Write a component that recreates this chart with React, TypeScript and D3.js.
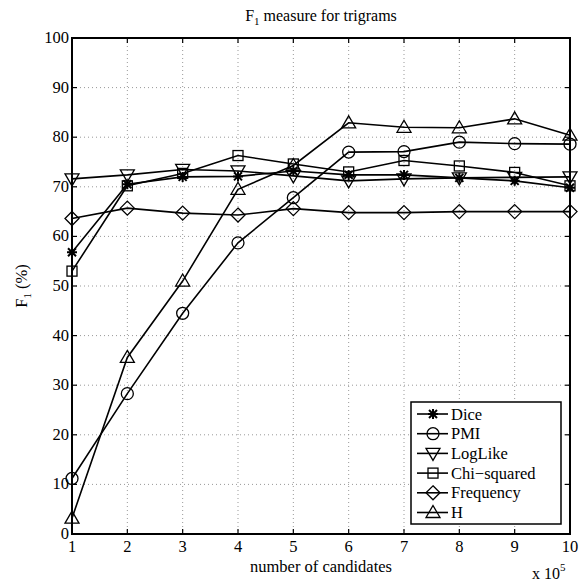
import * as d3 from "d3";
import { useEffect, useRef } from "react";

const candidates = [1, 2, 3, 4, 5, 6, 7, 8, 9, 10];
const dice = [56.8, 70.5, 72.0, 72.1, 73.2, 72.4, 72.4, 71.8, 71.2, 69.8];
const pmi = [11.2, 28.3, 44.5, 58.7, 67.8, 77.0, 77.1, 79.0, 78.7, 78.6];
const logLike = [71.6, 72.4, 73.5, 73.2, 72.2, 71.2, 71.6, 71.8, 71.9, 72.0];
const chiSquared = [53.0, 70.2, 72.7, 76.3, 74.6, 73.0, 75.3, 74.2, 72.9, 70.2];
const frequency = [63.6, 65.7, 64.7, 64.3, 65.6, 64.8, 64.8, 65.0, 65.0, 65.0];
const hMeasure = [3.2, 35.6, 51.0, 69.5, 74.3, 82.9, 82.0, 81.9, 83.7, 80.4];
const yTicks = [0, 10, 20, 30, 40, 50, 60, 70, 80, 90, 100];

const series = [
  { name: "Dice", values: dice, marker: "star" },
  { name: "PMI", values: pmi, marker: "circle" },
  { name: "LogLike", values: logLike, marker: "down" },
  { name: "Chi\u2212squared", values: chiSquared, marker: "square" },
  { name: "Frequency", values: frequency, marker: "diamond" },
  { name: "H", values: hMeasure, marker: "up" },
];

function drawMarker(g: any, type: string, x: number, y: number) {
  const s = 6;
  if (type === "circle") {
    g.append("circle").attr("cx", x).attr("cy", y).attr("r", s);
  } else if (type === "square") {
    g.append("rect").attr("x", x - 5).attr("y", y - 5).attr("width", 10).attr("height", 10);
  } else if (type === "diamond") {
    g.append("path").attr("d", `M${x},${y - 7}L${x + 7},${y}L${x},${y + 7}L${x - 7},${y}Z`);
  } else if (type === "up") {
    g.append("path").attr("d", `M${x},${y - 7}L${x + 7},${y + 5}L${x - 7},${y + 5}Z`);
  } else if (type === "down") {
    g.append("path").attr("d", `M${x},${y + 7}L${x + 7},${y - 5}L${x - 7},${y - 5}Z`);
  } else if (type === "star") {
    g.append("path")
      .attr("d", `M${x - 5},${y}L${x + 5},${y}M${x},${y - 5}L${x},${y + 5}M${x - 4},${y - 4}L${x + 4},${y + 4}M${x - 4},${y + 4}L${x + 4},${y - 4}`)
      .attr("stroke-width", 2);
  }
}

function App() {
  const svgRef = useRef(null);

  useEffect(() => {
    const svg = d3.select(svgRef.current);
    svg.selectAll("*").remove();

    const left = 72, right = 570, top = 38, bottom = 534;
    const x = d3.scaleLinear().domain([1, 10]).range([left, right]);
    const y = d3.scaleLinear().domain([0, 100]).range([bottom, top]);

    // grid
    const grid = svg.append("g").attr("stroke", "#999").attr("stroke-width", 1).attr("stroke-dasharray", "1,3");
    candidates.slice(1, -1).forEach((c) => {
      grid.append("line").attr("x1", x(c)).attr("x2", x(c)).attr("y1", top).attr("y2", bottom);
    });
    yTicks.slice(1, -1).forEach((t) => {
      grid.append("line").attr("x1", left).attr("x2", right).attr("y1", y(t)).attr("y2", y(t));
    });

    // ticks
    const ticks = svg.append("g").attr("stroke", "#000").attr("stroke-width", 1.2);
    candidates.forEach((c) => {
      ticks.append("line").attr("x1", x(c)).attr("x2", x(c)).attr("y1", bottom).attr("y2", bottom - 5);
      ticks.append("line").attr("x1", x(c)).attr("x2", x(c)).attr("y1", top).attr("y2", top + 5);
    });
    yTicks.forEach((t) => {
      ticks.append("line").attr("x1", left).attr("x2", left + 5).attr("y1", y(t)).attr("y2", y(t));
      ticks.append("line").attr("x1", right).attr("x2", right - 5).attr("y1", y(t)).attr("y2", y(t));
    });

    // tick labels
    const labels = svg.append("g").attr("font-size", 16.5).attr("fill", "#000");
    candidates.forEach((c) => {
      labels.append("text").attr("x", x(c)).attr("y", bottom + 18).attr("text-anchor", "middle").text(c);
    });
    yTicks.forEach((t) => {
      labels.append("text").attr("x", left - 3).attr("y", y(t) + 5).attr("text-anchor", "end").text(t);
    });

    // lines
    const line = d3.line<number>().x((v, i) => x(candidates[i])).y((v) => y(v));
    series.forEach((s) => {
      svg.append("path").attr("d", line(s.values)).attr("fill", "none").attr("stroke", "#000").attr("stroke-width", 1.6);
      const mg = svg.append("g").attr("fill", "none").attr("stroke", "#000").attr("stroke-width", 1.3);
      s.values.forEach((v, i) => drawMarker(mg, s.marker, x(candidates[i]), y(v)));
    });

    // box
    svg.append("rect").attr("x", left).attr("y", top).attr("width", right - left).attr("height", bottom - top)
      .attr("fill", "none").attr("stroke", "#000").attr("stroke-width", 2);

    // legend
    const lx = 411, ly = 402, lw = 150, lh = 122;
    const lg = svg.append("g");
    lg.append("rect").attr("x", lx).attr("y", ly).attr("width", lw).attr("height", lh)
      .attr("fill", "#fff").attr("stroke", "#000").attr("stroke-width", 1.5);
    series.forEach((s, i) => {
      const yy = ly + 12 + i * 19.7;
      lg.append("line").attr("x1", lx + 6).attr("x2", lx + 37).attr("y1", yy).attr("y2", yy)
        .attr("stroke", "#000").attr("stroke-width", 1.6);
      const mg = lg.append("g").attr("fill", "none").attr("stroke", "#000").attr("stroke-width", 1.3);
      drawMarker(mg, s.marker, lx + 22, yy);
      lg.append("text").attr("x", lx + 40).attr("y", yy + 5.5).attr("font-size", 16.5)
        .text(s.name);
    });

    // title
    const title = svg.append("text").attr("x", (left + right) / 2).attr("y", 21).attr("text-anchor", "middle")
      .attr("font-size", 16);
    title.append("tspan").text("F");
    title.append("tspan").attr("dy", 4).attr("font-size", 11).text("1");
    title.append("tspan").attr("dy", -4).text(" measure for trigrams");

    // x label
    svg.append("text").attr("x", (left + right) / 2).attr("y", 572).attr("text-anchor", "middle")
      .attr("font-size", 16.5).text("number of candidates");

    const exp = svg.append("text").attr("x", 532).attr("y", 579).attr("font-size", 16);
    exp.append("tspan").text("x 10");
    exp.append("tspan").attr("dy", -8).attr("font-size", 11).text("5");

    // y label
    const yl = svg.append("text").attr("transform", `translate(27,${(top + bottom) / 2}) rotate(-90)`)
      .attr("text-anchor", "middle").attr("font-size", 16.5);
    yl.append("tspan").text("F");
    yl.append("tspan").attr("dy", 4).attr("font-size", 11).text("1");
    yl.append("tspan").attr("dy", -4).text(" (%)");
  }, []);

  return (
    <svg ref={svgRef} width={585} height={581}
      style={{ position: "absolute", left: 0, top: 0, fontFamily: "Liberation Serif, DejaVu Serif, serif" }}></svg>
  );
}

export default App;
